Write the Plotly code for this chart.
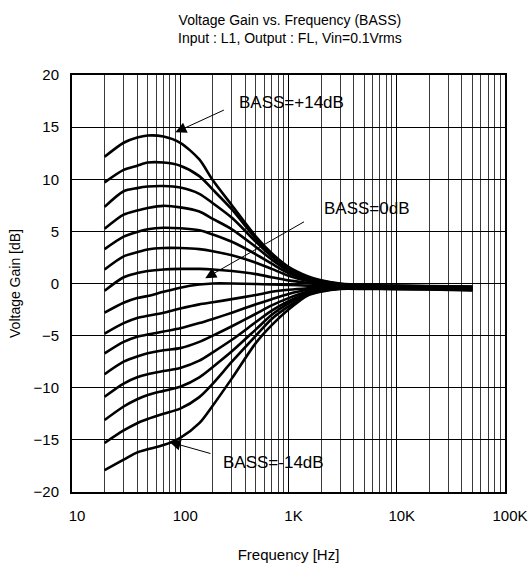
import plotly.graph_objects as go

freq = [20, 30, 40, 50, 70, 100, 150, 200, 300, 500, 700, 1000, 1500, 2000, 3000, 5000, 10000, 20000, 50000]

bass_p14 = [12.15, 13.5, 14.0, 14.2, 14.1, 13.5, 11.9, 9.9, 7.5, 4.5, 2.9, 1.6, 0.7, 0.3, 0.0, -0.15, -0.2, -0.25, -0.3]
bass_p12 = [9.7, 10.9, 11.3, 11.6, 11.6, 11.3, 10.3, 9.0, 7.1, 4.3, 2.8, 1.5, 0.6, 0.25, -0.05, -0.18, -0.22, -0.27, -0.32]
bass_p10 = [7.35, 8.85, 9.15, 9.3, 9.35, 9.2, 8.6, 7.7, 6.3, 4.0, 2.6, 1.4, 0.55, 0.2, -0.08, -0.2, -0.25, -0.3, -0.35]
bass_p8 = [5.24, 6.6, 7.0, 7.25, 7.45, 7.3, 6.9, 6.2, 5.2, 3.5, 2.3, 1.2, 0.45, 0.15, -0.1, -0.22, -0.28, -0.32, -0.37]
bass_p6 = [3.3, 4.5, 4.95, 5.2, 5.35, 5.3, 5.1, 4.7, 4.0, 2.8, 1.9, 1.0, 0.35, 0.1, -0.12, -0.25, -0.3, -0.34, -0.4]
bass_p4 = [1.34, 2.6, 3.0, 3.26, 3.4, 3.4, 3.3, 3.1, 2.7, 2.0, 1.4, 0.75, 0.25, 0.05, -0.15, -0.28, -0.32, -0.36, -0.42]
bass_p2 = [-0.7, 0.6, 1.0, 1.2, 1.35, 1.4, 1.4, 1.35, 1.2, 0.9, 0.6, 0.3, 0.05, -0.1, -0.2, -0.3, -0.35, -0.38, -0.45]
bass_0 = [-2.8, -1.85, -1.4, -1.2, -0.8, -0.4, -0.1, 0.0, 0.0, -0.05, -0.1, -0.15, -0.2, -0.25, -0.3, -0.33, -0.37, -0.4, -0.48]
bass_m2 = [-4.8, -3.8, -3.3, -3.1, -2.8, -2.4, -2.0, -1.8, -1.5, -1.1, -0.8, -0.6, -0.45, -0.38, -0.34, -0.36, -0.4, -0.43, -0.5]
bass_m4 = [-6.7, -5.6, -5.1, -4.9, -4.6, -4.3, -3.8, -3.4, -2.8, -2.0, -1.5, -1.0, -0.6, -0.48, -0.38, -0.4, -0.42, -0.46, -0.53]
bass_m6 = [-8.7, -7.5, -7.0, -6.7, -6.4, -6.2, -5.6, -5.0, -4.1, -2.9, -2.1, -1.4, -0.8, -0.58, -0.42, -0.42, -0.45, -0.48, -0.56]
bass_m8 = [-10.86, -9.6, -9.0, -8.7, -8.4, -8.1, -7.4, -6.6, -5.4, -3.7, -2.6, -1.7, -0.9, -0.63, -0.45, -0.45, -0.47, -0.5, -0.58]
bass_m10 = [-13.1, -11.8, -11.1, -10.7, -10.3, -9.9, -9.0, -8.0, -6.5, -4.4, -3.0, -1.9, -1.0, -0.68, -0.48, -0.47, -0.5, -0.52, -0.6]
bass_m12 = [-15.3, -14.1, -13.4, -13.0, -12.5, -12.0, -10.9, -9.6, -7.5, -5.0, -3.4, -2.2, -1.1, -0.72, -0.5, -0.5, -0.52, -0.55, -0.63]
bass_m14 = [-17.9, -16.9, -16.2, -15.9, -15.5, -14.8, -13.4, -11.7, -9.1, -5.7, -4.0, -2.5, -1.15, -0.78, -0.52, -0.52, -0.55, -0.58, -0.66]

series = [bass_p14, bass_p12, bass_p10, bass_p8, bass_p6, bass_p4, bass_p2, bass_0,
          bass_m2, bass_m4, bass_m6, bass_m8, bass_m10, bass_m12, bass_m14]

x_tickvals = [10, 100, 1000, 10000, 100000]
x_ticktext = ["10", "100", "1K", "10K", "100K"]
x_minor = [m * d for d in [10, 100, 1000, 10000] for m in range(2, 10)]
y_tickvals = [-20, -15, -10, -5, 0, 5, 10, 15, 20]

title_text = "Voltage Gain vs. Frequency (BASS)<br>Input : L1, Output : FL, Vin=0.1Vrms"
x_title = "Frequency [Hz]"
y_title = "Voltage Gain [dB]"

FONT = "Liberation Sans, Arial, sans-serif"

fig = go.Figure()
for s in series:
    fig.add_trace(go.Scatter(x=freq, y=s, mode="lines",
                             line=dict(color="black", width=2.6, shape="spline", smoothing=0.8),
                             showlegend=False, hoverinfo="skip"))

W, H = 528, 565
L, R, T, B = 72, 23, 75, 73
pw, ph = W - L - R, H - T - B
fig.update_layout(
    width=W, height=H,
    margin=dict(l=L, r=R, t=T, b=B, autoexpand=False),
    paper_bgcolor="white", plot_bgcolor="white",
    font=dict(family=FONT, size=14, color="black"),
)

# two-line title as a centred annotation
fig.add_annotation(text=title_text, xref="paper", yref="paper",
                   x=(290 - L) / pw, y=1 + (T - 29) / ph, xanchor="center", yanchor="middle",
                   showarrow=False, font=dict(family=FONT, size=14, color="black"))

fig.update_xaxes(type="log", range=[1, 5], tickmode="array", tickvals=x_tickvals, ticktext=x_ticktext,
                 showgrid=True, gridcolor="black", gridwidth=1,
                 minor=dict(tickmode="array", tickvals=x_minor, showgrid=True, gridcolor="#3a3a3a", gridwidth=1),
                 showline=True, linecolor="black", linewidth=2, mirror=True,
                 ticks="", ticklabelstandoff=9, ticklabelshift=5,
                 tickfont=dict(size=15), automargin=False,
                 title=dict(text=x_title, font=dict(size=15), standoff=26),
                 zeroline=False)
fig.update_yaxes(range=[-20, 20], tickmode="array", tickvals=y_tickvals,
                 showgrid=True, gridcolor="black", gridwidth=1,
                 showline=True, linecolor="black", linewidth=2, mirror=True,
                 ticks="", ticklabelstandoff=8, automargin=False,
                 tickfont=dict(size=15),
                 title=dict(text=y_title, font=dict(size=14), standoff=10),
                 zeroline=False)

# white label boxes (cover the grid, below the curves)
boxes = [(228, 365, 88, 121), (300, 420, 196, 229), (210, 370, 448, 482)]
for x0, x1, y0, y1 in boxes:
    fig.add_shape(type="rect", xref="paper", yref="paper",
                  x0=(x0 - L) / pw, x1=(x1 - L) / pw,
                  y0=1 - (y1 - T) / ph, y1=1 - (y0 - T) / ph,
                  fillcolor="white", line=dict(width=0), layer="between")

labels = [("BASS=+14dB", 291, 102), ("BASS=0dB", 367, 208), ("BASS=-14dB", 273, 462)]
for txt, px, py in labels:
    fig.add_annotation(text=txt, xref="paper", yref="paper",
                       x=(px - L) / pw, y=1 - (py - T) / ph, showarrow=False,
                       xanchor="center", yanchor="middle",
                       font=dict(family=FONT, size=17, color="black"))

# arrows: (tip_freq_log, tip_db, tail_freq_log, tail_db)
arrows = [(1.955, 14.5, 2.417, 16.7), (2.231, 0.5, 3.157, 6.0), (1.901, -15.2, 2.293, -16.35)]
for xl, yv, axl, ayv in arrows:
    fig.add_annotation(x=xl, y=yv, ax=axl, ay=ayv, xref="x", yref="y", axref="x", ayref="y",
                       text="", showarrow=True, arrowhead=2, arrowsize=2.2, arrowwidth=1, arrowcolor="black")

fig.write_html("out.html", config={"displayModeBar": False},
               post_script="document.body.style.margin='0';document.body.style.overflow='hidden';")
